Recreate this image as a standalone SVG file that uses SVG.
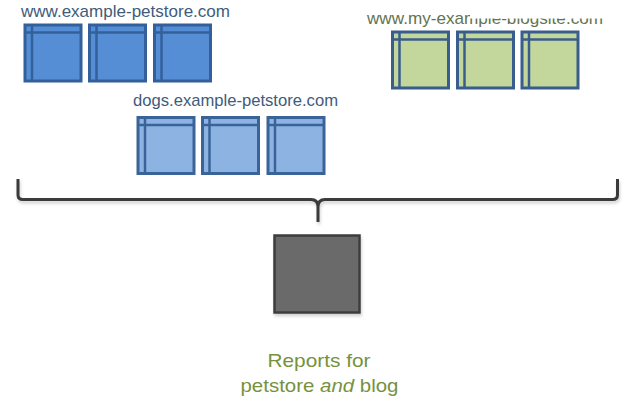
<svg xmlns="http://www.w3.org/2000/svg" width="635" height="401" viewBox="0 0 635 401">
  <style>
    .pet { fill: #558ed5; stroke: #33609a; }
    .dogs { fill: #8db3e2; stroke: #3a6499; }
    .blog { fill: #c3d69b; stroke: #395d8c; }
    .site { font-family: "Liberation Sans", Arial, sans-serif; font-size: 17px; stroke: none; }
    .caption { font-family: "Liberation Sans", Arial, sans-serif; font-size: 19px; fill: #76923c; }
  </style>
  <defs>
    <!-- browser-window page icon: frame plus title strip and side strip -->
    <g id="page">
      <rect x="0" y="0" width="56" height="56" stroke-width="3"/>
      <line x1="7" y1="0" x2="7" y2="56" stroke-width="2.5"/>
      <line x1="0" y1="7.5" x2="56" y2="7.5" stroke-width="2.5"/>
    </g>
    <filter id="shadow" x="-10%" y="-10%" width="130%" height="140%">
      <feDropShadow dx="1" dy="2.5" stdDeviation="1.5" flood-color="#000" flood-opacity="0.18"/>
    </filter>
    <clipPath id="blogClip">
      <rect x="0" y="0" width="470" height="40"/>
      <rect x="470" y="18.6" width="165" height="20"/>
    </clipPath>
  </defs>

  <rect width="635" height="401" fill="#ffffff"/>

  <!-- www.example-petstore.com -->
  <g id="petstore">
    <text class="site" x="21" y="17" fill="#405c7c" textLength="209" lengthAdjust="spacingAndGlyphs">www.example-petstore.com</text>
    <g id="petstore-page1" class="pet"><use href="#page" x="25" y="25"/></g>
    <g id="petstore-page2" class="pet"><use href="#page" x="89.5" y="25"/></g>
    <g id="petstore-page3" class="pet"><use href="#page" x="154.5" y="25"/></g>
  </g>

  <!-- www.my-example-blogsite.com -->
  <g id="blogsite">
    <text class="site" x="367" y="23.5" fill="#647350" textLength="236" lengthAdjust="spacingAndGlyphs" clip-path="url(#blogClip)">www.my-example-blogsite.com</text>
    <g id="blogsite-page1" class="blog"><use href="#page" x="392.5" y="32"/></g>
    <g id="blogsite-page2" class="blog"><use href="#page" x="457.5" y="32"/></g>
    <g id="blogsite-page3" class="blog"><use href="#page" x="522" y="32"/></g>
  </g>

  <!-- dogs.example-petstore.com -->
  <g id="dogs">
    <text class="site" x="133" y="106" fill="#405c7c" textLength="205" lengthAdjust="spacingAndGlyphs">dogs.example-petstore.com</text>
    <g id="dogs-page1" class="dogs"><use href="#page" x="138" y="117.5"/></g>
    <g id="dogs-page2" class="dogs"><use href="#page" x="202.5" y="117.5"/></g>
    <g id="dogs-page3" class="dogs"><use href="#page" x="268" y="117.5"/></g>
  </g>

  <!-- brace gathering all sites -->
  <g id="connectors">
    <path d="M18,179 V195 Q18,199.5 23,199.5 H311 Q318,199.5 318,207 V222 M318,207 Q318,199.5 325,199.5 H612.5 Q617.5,199.5 617.5,195 V179"
          fill="none" stroke="#3a3a3a" stroke-width="3" stroke-linejoin="round" filter="url(#shadow)"/>
  </g>

  <!-- combined reports -->
  <g id="reports">
    <rect x="274.5" y="235.5" width="85" height="77" fill="#6b6b6b" stroke="#3c3c3c" stroke-width="2.5" filter="url(#shadow)"/>
    <text class="caption" x="319" y="367" text-anchor="middle" textLength="103" lengthAdjust="spacingAndGlyphs">Reports for</text>
    <text class="caption" x="319.5" y="392" text-anchor="middle" textLength="158" lengthAdjust="spacingAndGlyphs">petstore <tspan font-style="italic">and</tspan> blog</text>
  </g>
</svg>
